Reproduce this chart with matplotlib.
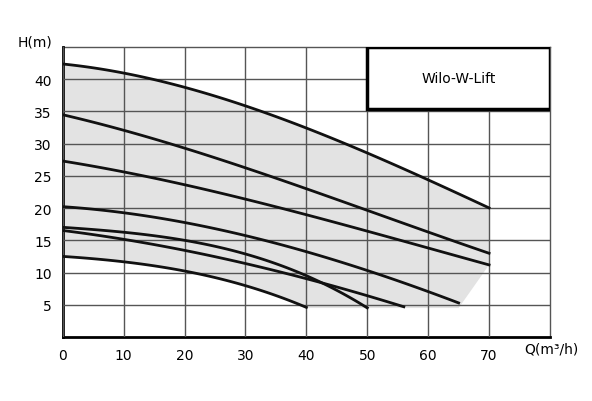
import numpy as np
import matplotlib.pyplot as plt

q1 = [0, 10, 20, 30, 40, 50, 60, 70]; h1 = [42.3, 41, 38.8, 35.7, 32.4, 28.6, 24.4, 20]
q2 = [0, 10, 20, 30, 40, 50, 60, 70]; h2 = [34.5, 32, 29.3, 26.3, 23, 19.6, 16.3, 13]
q3 = [0, 10, 20, 30, 40, 50, 60, 70]; h3 = [27.3, 25.6, 23.6, 21.4, 19, 16.4, 13.8, 11.2]
q4 = [0, 10, 20, 30, 40, 50, 60, 65]; h4 = [20.2, 19.3, 17.8, 15.7, 13.2, 10.3, 7.2, 5.2]
q5 = [0, 10, 20, 30, 40, 50]; h5 = [17, 16.3, 15, 12.8, 9.6, 4.5]
q6 = [0, 10, 20, 30, 40, 50, 56]; h6 = [16.5, 15.2, 13.5, 11.3, 9, 6.6, 4.6]
q7 = [0, 10, 20, 30, 40]; h7 = [12.5, 11.7, 10.2, 8, 4.6]
curves = [(q1, h1), (q2, h2), (q3, h3), (q4, h4), (q5, h5), (q6, h6), (q7, h7)]

def smooth(q, h, n=100):
    c = np.polyfit(q, h, min(3, len(q) - 1))
    x = np.linspace(q[0], q[-1], n)
    return x, np.polyval(c, x)

fig = plt.figure(figsize=(5.92, 4.02), dpi=100)
ax = fig.add_axes([0.106, 0.159, 0.823, 0.722])
ax.set_xlim(0, 80); ax.set_ylim(0, 45)

xt, yt = smooth(q1, h1)
xb, yb = smooth(q7, h7)
px = list(xt) + [70, 65] + [65, 40] + list(xb[::-1])
py = list(yt) + [11.2, 4.5] + [4.5, 4.5] + list(yb[::-1])
ax.fill(px, py, color='#e3e3e3', zorder=1, lw=0)

for q, h in curves:
    x, y = smooth(q, h)
    ax.plot(x, y, color='#111111', lw=2, zorder=3)

ax.set_xticks(range(0, 80, 10))
ax.set_yticks(range(5, 45, 5))
ax.grid(True, color='#555555', lw=1, zorder=2)
ax.set_axisbelow(False)
ax.tick_params(length=0, labelsize=10, pad=8)
ax.spines['left'].set_linewidth(2)
ax.spines['bottom'].set_linewidth(2)
ax.spines['top'].set_visible(False)
ax.spines['right'].set_visible(False)
ax.plot([80, 80], [0, 45], color='#555555', lw=1, clip_on=False)
ax.plot([0, 80], [45, 45], color='#555555', lw=1, clip_on=False)

ax.add_patch(plt.Rectangle((50, 35.4), 30, 9.6, facecolor='white', edgecolor='black', lw=2.5, zorder=5))
ax.text(65, 40.2, 'Wilo-W-Lift', ha='center', va='center', fontsize=10, zorder=6)

fig.text(0.03, 0.885, 'H(m)', fontsize=10)
fig.text(0.885, 0.12, 'Q(m³/h)', fontsize=10)
fig.savefig('out.png', dpi=100)
